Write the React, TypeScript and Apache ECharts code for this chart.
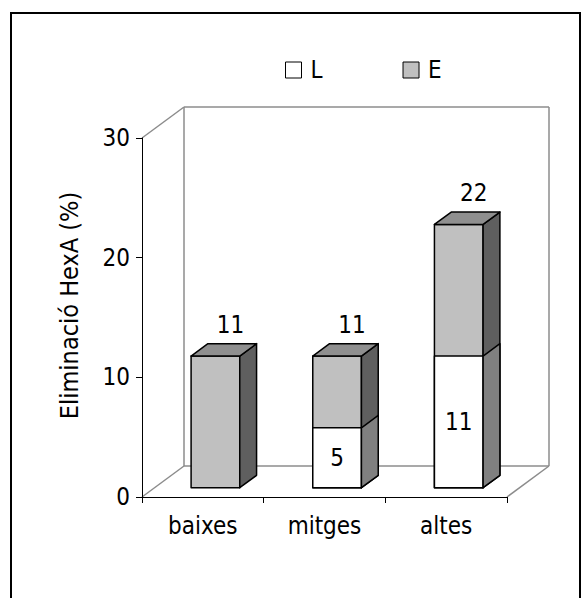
import React, { useEffect, useRef } from "react";
import * as echarts from "echarts";

// Categories and series values
const categories = ["baixes", "mitges", "altes"];
const seriesL = [0, 5, 11];
const seriesE = [11, 11, 22];
const yTicks = [0, 10, 20, 30];

const FONT = '"DejaVu Sans Condensed", "DejaVu Sans", sans-serif';

// Plot area (front plane) and the 3D depth offset of the walls
const GRID = { left: 142, top: 138, width: 365, height: 359 };
const DEPTH = { dx: 42, dy: -31 };
const BAR_FRONT = 0.3; // depth fraction where the bar's front face sits
const BAR_BACK = 0.7; // depth fraction of the bar's back face
const BAR_WIDTH_RATIO = 0.4;

type Face = { front: string; top: string; side: string };
const FACES_E: Face = { front: "#c0c0c0", top: "#8f8f8f", side: "#5f5f5f" };
const FACES_L: Face = { front: "#ffffff", top: "#ffffff", side: "#808080" };

function makeRender(faces: Face, drawTop: boolean, labelOnTop: boolean) {
  return (params: any, api: any) => {
    const idx = api.value(0);
    const v = api.value(1);
    if (!v) return { type: "group", children: [] };
    const base = api.coord([idx, 0]);
    const top = api.coord([idx, v]);
    const band = api.size([1, 0])[0];
    const w = band * BAR_WIDTH_RATIO;
    const fx = DEPTH.dx * BAR_FRONT;
    const fy = DEPTH.dy * BAR_FRONT;
    const bx = DEPTH.dx * (BAR_BACK - BAR_FRONT);
    const by = DEPTH.dy * (BAR_BACK - BAR_FRONT);
    const x0 = base[0] - w / 2 + fx;
    const x1 = x0 + w;
    const yb = base[1] + fy;
    const yt = top[1] + fy;
    const stroke = { stroke: "#000", lineWidth: 1.5, lineJoin: "round" };
    const children: any[] = [
      {
        type: "rect",
        shape: { x: x0, y: yt, width: w, height: yb - yt },
        style: { fill: faces.front, ...stroke },
      },
      {
        type: "polygon",
        shape: {
          points: [
            [x1, yb],
            [x1, yt],
            [x1 + bx, yt + by],
            [x1 + bx, yb + by],
          ],
        },
        style: { fill: faces.side, ...stroke },
      },
    ];
    if (drawTop) {
      children.push({
        type: "polygon",
        shape: {
          points: [
            [x0, yt],
            [x1, yt],
            [x1 + bx, yt + by],
            [x0 + bx, yt + by],
          ],
        },
        style: { fill: faces.top, ...stroke },
      });
    }
    const cx = x0 + w / 2;
    children.push({
      type: "text",
      style: {
        text: String(v),
        x: labelOnTop ? cx + 15 : cx,
        y: labelOnTop ? yt - 31 : (yt + yb) / 2,
        align: "center",
        verticalAlign: "middle",
        fontFamily: FONT,
        fontSize: 24,
        fill: "#000",
      },
    });
    return { type: "group", children };
  };
}

export default function App() {
  const ref = useRef<HTMLDivElement>(null);

  useEffect(() => {
    if (!ref.current) return;
    const chart = echarts.init(ref.current, undefined, { renderer: "svg" });

    const { left, top, width, height } = GRID;
    const right = left + width;
    const bottom = top + height;
    const { dx, dy } = DEPTH;
    const wallStyle = { stroke: "#8c8c8c", lineWidth: 1.5 };
    const seg = (x1: number, y1: number, x2: number, y2: number) => ({
      type: "line",
      shape: { x1, y1, x2, y2 },
      style: wallStyle,
      silent: true,
    });

    chart.setOption({
      animation: false,
      backgroundColor: "#ffffff",
      textStyle: { fontFamily: FONT },
      graphic: [
        {
          type: "rect",
          shape: { x: 11, y: 13, width: 569, height: 600 },
          style: { fill: "none", stroke: "#000", lineWidth: 2 },
          z: 0,
          silent: true,
        },
        {
          type: "group",
          z: 0,
          children: [
            // back wall
            seg(left + dx, top + dy, right + dx, top + dy),
            seg(left + dx, top + dy, left + dx, bottom + dy),
            seg(right + dx, top + dy, right + dx, bottom + dy),
            // floor back edge
            seg(left + dx, bottom + dy, right + dx, bottom + dy),
            // depth edges
            seg(left, top, left + dx, top + dy),
            seg(left, bottom, left + dx, bottom + dy),
            seg(right, bottom, right + dx, bottom + dy),
          ],
        },
      ],
      legend: {
        data: [
          { name: "L", itemStyle: { color: "#ffffff", borderColor: "#000", borderWidth: 1 } },
          { name: "E", itemStyle: { color: "#c0c0c0", borderColor: "#000", borderWidth: 1 } },
        ],
        left: 285,
        top: 58,
        padding: 0,
        icon: "rect",
        itemWidth: 16,
        itemHeight: 16,
        itemGap: 80,
        textStyle: {
          fontFamily: FONT,
          fontSize: 24,
          color: "#000",
          padding: [0, 0, 0, 4],
        },
      },
      grid: { left, top, width, height, containLabel: false },
      xAxis: {
        type: "category",
        data: categories,
        boundaryGap: true,
        axisLine: { show: true, lineStyle: { color: "#000", width: 1 } },
        axisTick: { show: true, length: 6, lineStyle: { color: "#000" } },
        axisLabel: { fontFamily: FONT, fontSize: 24, color: "#000", margin: 17 },
        splitLine: { show: false },
      },
      yAxis: {
        type: "value",
        min: yTicks[0],
        max: yTicks[yTicks.length - 1],
        interval: yTicks[1] - yTicks[0],
        name: "Eliminació HexA (%)",
        nameLocation: "middle",
        nameRotate: 90,
        nameGap: 60,
        nameTextStyle: {
          fontFamily: FONT,
          fontSize: 25,
          color: "#000",
          padding: [0, 0, 0, 24],
        },
        axisLine: { show: true, lineStyle: { color: "#000", width: 1 } },
        axisTick: { show: true, length: 6, lineStyle: { color: "#000" } },
        axisLabel: { fontFamily: FONT, fontSize: 24, color: "#000", margin: 12 },
        splitLine: { show: false },
      },
      series: [
        {
          name: "E",
          type: "custom",
          itemStyle: { color: FACES_E.front, borderColor: "#000", borderWidth: 1 },
          renderItem: makeRender(FACES_E, true, true),
          encode: { x: 0, y: 1 },
          data: seriesE.map((v, i) => [i, v]),
          clip: false,
          z: 2,
        },
        {
          name: "L",
          type: "custom",
          itemStyle: { color: FACES_L.front, borderColor: "#000", borderWidth: 1 },
          renderItem: makeRender(FACES_L, false, false),
          encode: { x: 0, y: 1 },
          data: seriesL.map((v, i) => [i, v]),
          clip: false,
          z: 3,
        },
      ],
    });

    return () => chart.dispose();
  }, []);

  return (
    <div
      ref={ref}
      style={{ position: "absolute", left: 0, top: 0, width: 583, height: 598 }}
    />
  );
}
